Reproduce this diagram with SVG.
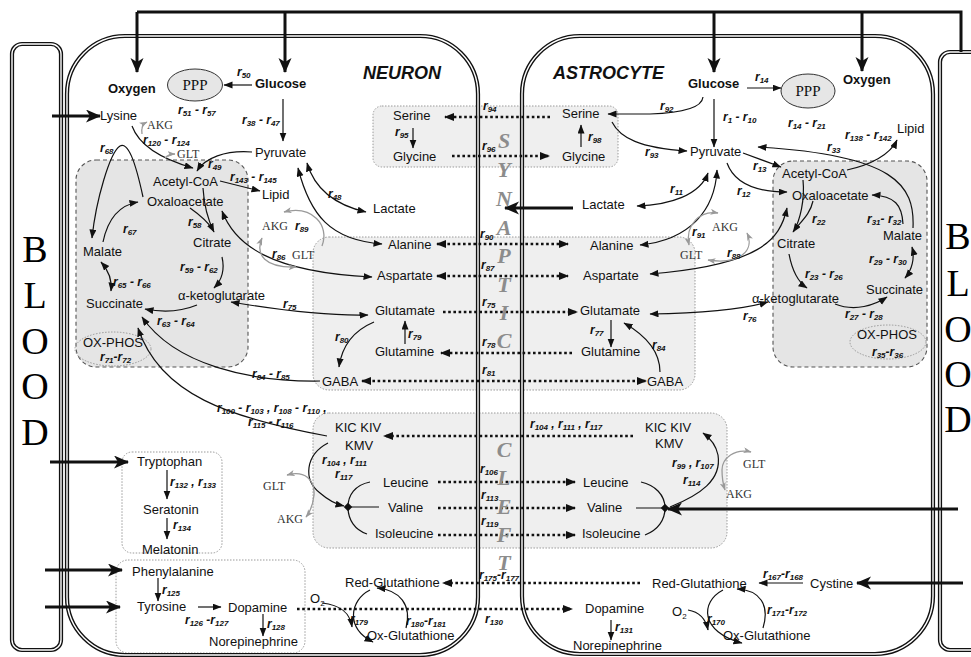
<svg xmlns="http://www.w3.org/2000/svg" width="971" height="657" viewBox="0 0 971 657">
<defs>
<style>
.m{font-family:"Liberation Sans",Arial,sans-serif;font-size:13px;fill:#111}
.b{font-family:"Liberation Sans",Arial,sans-serif;font-size:13px;font-weight:bold;fill:#111}
.r{font-family:"Liberation Sans",Arial,sans-serif;font-size:12px;font-weight:bold;font-style:italic;fill:#111}
.s{font-size:8px}
.g{font-family:"Liberation Serif","Times New Roman",serif;font-size:12px;fill:#333}
.ppp{font-family:"Liberation Serif","Times New Roman",serif;font-size:15px;fill:#111;text-anchor:middle}
.blood{font-family:"Liberation Serif","Times New Roman",serif;font-size:38px;fill:#000;text-anchor:middle}
.cleft{font-family:"Liberation Serif","Times New Roman",serif;font-size:22px;font-weight:bold;font-style:italic;fill:#8c8c8c;text-anchor:middle}
.ttl{font-family:"Liberation Sans",Arial,sans-serif;font-size:18px;font-weight:bold;font-style:italic;fill:#111}
.ln{fill:none;stroke:#111;stroke-width:1.2}
.gl{fill:none;stroke:#9a9a9a;stroke-width:1.3}
.dt{fill:none;stroke:#111;stroke-width:2.6;stroke-dasharray:2.6 2.6}
.tk{fill:none;stroke:#111;stroke-width:3}
.wallO{fill:none;stroke:#111;stroke-width:4.2}
.wallI{fill:none;stroke:#fff;stroke-width:1.4}
.tca{fill:#e5e5e5;stroke:#555;stroke-width:1.1;stroke-dasharray:4 3}
.pool{fill:#efefef;stroke:#9a9a9a;stroke-width:1;stroke-dasharray:1.5 1.5}
.pool0{fill:none;stroke:#9a9a9a;stroke-width:1;stroke-dasharray:1.5 1.5}
.oxp{fill:none;stroke:#999;stroke-width:1;stroke-dasharray:1.5 1.5}
.pe{fill:#e6e6e6;stroke:#333;stroke-width:1}
</style>
<marker id="a" markerUnits="userSpaceOnUse" markerWidth="10" markerHeight="8" refX="8.5" refY="3.5" orient="auto-start-reverse"><path d="M0,0 L9,3.5 L0,7 z" fill="#111"/></marker>
<marker id="ag" markerUnits="userSpaceOnUse" markerWidth="10" markerHeight="8" refX="7.5" refY="3" orient="auto-start-reverse"><path d="M0,0 L8,3 L0,6 L2,3 z" fill="#9a9a9a"/></marker>
<marker id="ad" markerUnits="userSpaceOnUse" markerWidth="11" markerHeight="9" refX="9" refY="4" orient="auto-start-reverse"><path d="M0,0 L10,4 L0,8 z" fill="#111"/></marker>
<marker id="at" markerUnits="userSpaceOnUse" markerWidth="16" markerHeight="14" refX="14" refY="6.5" orient="auto-start-reverse"><path d="M0,0 L15,6.5 L0,13 L4,6.5 z" fill="#111"/></marker>
</defs>
<rect width="971" height="657" fill="#fff"/>

<!-- compartment pools -->
<g id="pools">
<rect class="tca" x="76" y="160" width="172" height="207" rx="20"/>
<rect class="tca" x="773" y="161" width="154" height="206" rx="20"/>
<rect class="pool" x="373" y="106" width="245" height="61" rx="9"/>
<rect class="pool" x="313" y="237" width="382" height="153" rx="16"/>
<rect class="pool" x="313" y="413" width="414" height="135" rx="16"/>
<rect class="pool0" x="122" y="452" width="100" height="101" rx="10"/>
<rect class="pool0" x="116" y="560" width="189" height="93" rx="12"/>
<ellipse class="oxp" cx="113" cy="349" rx="38" ry="17"/>
<ellipse class="oxp" cx="888" cy="342" rx="38" ry="17"/>
</g>

<!-- blood vessels and cell membranes (double walls) -->
<g id="blood-left">
<rect class="wallO" x="12" y="44" width="49" height="606" rx="10"/>
<rect class="wallI" x="12" y="44" width="49" height="606" rx="10"/>
<text class="blood" x="35" y="262">B</text>
<text class="blood" x="35" y="308">L</text>
<text class="blood" x="35" y="354">O</text>
<text class="blood" x="35" y="399">O</text>
<text class="blood" x="35" y="445">D</text>
</g>
<g id="blood-right">
<rect class="wallO" x="940" y="52" width="60" height="598" rx="10"/>
<rect class="wallI" x="940" y="52" width="60" height="598" rx="10"/>
<text class="blood" x="958" y="249">B</text>
<text class="blood" x="958" y="296">L</text>
<text class="blood" x="958" y="342">O</text>
<text class="blood" x="958" y="387">O</text>
<text class="blood" x="958" y="432">D</text>
</g>
<g id="neuron">
<rect class="wallO" x="67" y="36" width="411" height="619" rx="58"/>
<rect class="wallI" x="67" y="36" width="411" height="619" rx="58"/>
<text class="ttl" x="363" y="79">NEURON</text>
</g>
<g id="astrocyte">
<rect class="wallO" x="522" y="36" width="411" height="618" rx="58"/>
<rect class="wallI" x="522" y="36" width="411" height="618" rx="58"/>
<text class="ttl" x="553" y="79">ASTROCYTE</text>
</g>
<ellipse class="pe" cx="195" cy="85" rx="27.5" ry="16"/>
<ellipse class="pe" cx="808" cy="91" rx="27" ry="17"/>

<!-- connectors -->
<g id="connectors">
<!-- supply from blood -->
<path class="tk" d="M137,12 H961 V52"/>
<path class="tk" d="M137,12 V72" marker-end="url(#at)"/>
<path class="tk" d="M285,12 V72" marker-end="url(#at)"/>
<path class="tk" d="M714,12 V72" marker-end="url(#at)"/>
<path class="tk" d="M862,12 V71" marker-end="url(#at)"/>
<path class="tk" d="M52,116 H100" marker-end="url(#at)"/>
<path class="tk" d="M50,462 H128" marker-end="url(#at)"/>
<path class="tk" d="M45,570 H122" marker-end="url(#at)"/>
<path class="tk" d="M45,607 H120" marker-end="url(#at)"/>
<path class="tk" d="M573,208 H505" marker-end="url(#at)"/>
<path class="tk" d="M958,509 H668" marker-end="url(#at)"/>
<path class="tk" d="M963,583 H857" marker-end="url(#at)"/>

<!-- neuron -->
<path class="ln" d="M252,85 H224" marker-end="url(#a)"/>
<path class="ln" d="M283,99 V141" marker-end="url(#a)"/>
<path class="ln" d="M252,152 C225,150 205,158 197,171" marker-end="url(#a)"/>
<path class="ln" d="M132,126 C140,148 165,160 193,168" marker-end="url(#a)"/>
<path class="ln" d="M220,181 L260,191" marker-end="url(#a)"/>
<path class="ln" d="M307,163 C315,190 335,205 366,212" marker-start="url(#a)" marker-end="url(#a)"/>
<path class="ln" d="M298,168 C310,215 330,240 382,244" marker-start="url(#a)" marker-end="url(#a)"/>
<path class="ln" d="M222,211 C235,245 270,272 372,277" marker-start="url(#a)" marker-end="url(#a)"/>
<path class="ln" d="M231,302 C290,312 330,316 368,315" marker-start="url(#a)" marker-end="url(#a)"/>
<path class="ln" d="M203,188 C204,205 208,220 214,232" marker-end="url(#a)"/>
<path class="ln" d="M190,208 C200,215 208,222 213,230"/>
<path class="ln" d="M103,242 C108,218 120,205 138,202" marker-end="url(#a)"/>
<path class="ln" d="M143,197 C135,160 128,142 120,146 C110,152 96,200 92,238" marker-end="url(#a)"/>
<path class="ln" d="M101,262 C110,272 112,282 111,291" marker-start="url(#a)" marker-end="url(#a)"/>
<path class="ln" d="M222,257 C225,270 222,280 214,288" marker-end="url(#a)"/>
<path class="ln" d="M197,305 C180,312 160,312 145,309" marker-end="url(#a)"/>
<path class="ln" d="M320,381 C250,382 175,365 142,317" marker-end="url(#a)"/>
<path class="ln" d="M327,436 C230,418 160,395 138,328" marker-end="url(#a)"/>
<path class="ln" d="M374,322 C355,330 342,345 339,367" marker-end="url(#a)"/>
<path class="ln" d="M405,344 V321" marker-end="url(#a)"/>
<path class="ln" d="M413,128 V148" marker-end="url(#a)"/>
<path class="ln" d="M328,443 C305,455 303,480 320,493 C328,500 335,504 344,506" marker-end="url(#a)"/>
<path class="ln" d="M370,482 C355,485 348,495 348,507 C348,520 355,530 367,534 M348,507 H379"/>
<rect x="345" y="504" width="6" height="6" transform="rotate(45 348 507)" fill="#111"/>
<path class="ln" d="M167,470 V499" marker-end="url(#a)"/>
<path class="ln" d="M167,518 V539" marker-end="url(#a)"/>
<path class="ln" d="M158,578 V601" marker-end="url(#a)"/>
<path class="ln" d="M198,607 H221" marker-end="url(#a)"/>
<path class="ln" d="M263,614 V636" marker-end="url(#a)"/>
<path class="ln" d="M370,590 C350,600 345,628 373,642" marker-end="url(#a)"/>
<path class="ln" d="M322,603 C340,605 350,612 352,627" marker-end="url(#a)"/>
<path class="ln" d="M406,628 C412,605 400,590 377,588" marker-end="url(#a)"/>
<path class="gl" d="M142,134 C141,128 143,124 147,122" marker-end="url(#ag)"/>
<path class="gl" d="M165,158 C168,155 171,154 175,154" marker-end="url(#ag)"/>
<path class="gl" d="M322,246 C330,225 312,205 284,212" marker-end="url(#ag)"/>
<path class="gl" d="M262,238 C255,255 265,268 296,267" marker-start="url(#ag)" marker-end="url(#ag)"/>
<path class="gl" d="M287,475 C305,470 315,480 314,495 C313,505 310,512 306,517" marker-start="url(#ag)" marker-end="url(#ag)"/>

<!-- astrocyte -->
<path class="ln" d="M747,88 H781" marker-end="url(#a)"/>
<path class="ln" d="M714,99 V147" marker-end="url(#a)"/>
<path class="ln" d="M703,97 C702,108 680,113 650,114 L608,114" marker-end="url(#a)"/>
<path class="ln" d="M612,122 C620,138 640,148 687,151" marker-end="url(#a)"/>
<path class="ln" d="M743,153 L781,167" marker-end="url(#a)"/>
<path class="ln" d="M727,163 C735,185 760,192 787,192" marker-end="url(#a)"/>
<path class="ln" d="M708,173 C700,195 670,205 637,206" marker-start="url(#a)" marker-end="url(#a)"/>
<path class="ln" d="M717,170 C715,210 690,240 640,245" marker-start="url(#a)" marker-end="url(#a)"/>
<path class="ln" d="M787,208 C780,240 760,265 650,274" marker-start="url(#a)" marker-end="url(#a)"/>
<path class="ln" d="M650,314 C700,313 740,310 768,302" marker-start="url(#a)" marker-end="url(#a)"/>
<path class="ln" d="M847,170 C870,165 890,155 897,140" marker-end="url(#a)"/>
<path class="ln" d="M913,228 C915,185 895,155 758,147" marker-end="url(#a)"/>
<path class="ln" d="M903,224 C902,205 895,196 872,195" marker-end="url(#a)"/>
<path class="ln" d="M813,201 C810,215 800,222 793,232" marker-end="url(#a)"/>
<path class="ln" d="M803,180 C805,200 800,220 794,231"/>
<path class="ln" d="M789,254 C792,270 798,282 807,288" marker-end="url(#a)"/>
<path class="ln" d="M912,247 C915,258 912,270 905,278" marker-start="url(#a)" marker-end="url(#a)"/>
<path class="ln" d="M835,304 C855,312 875,305 887,297" marker-end="url(#a)"/>
<path class="ln" d="M611,320 V347" marker-end="url(#a)"/>
<path class="ln" d="M581,147 V125" marker-end="url(#a)"/>
<path class="ln" d="M660,372 C660,350 645,335 624,323" marker-end="url(#a)"/>
<path class="ln" d="M641,482 C655,485 665,495 665,508 C665,520 658,530 645,535 M636,508 H665"/>
<rect x="662" y="505" width="6" height="6" transform="rotate(45 665 508)" fill="#111"/>
<path class="ln" d="M670,507 C700,495 722,480 718,455 C716,445 710,438 703,433" marker-end="url(#a)"/>
<path class="ln" d="M803,583 H759" marker-end="url(#a)"/>
<path class="ln" d="M723,590 C700,602 700,632 742,643" marker-end="url(#a)"/>
<path class="ln" d="M688,610 C700,612 706,620 708,630" marker-end="url(#a)"/>
<path class="ln" d="M763,628 C770,605 760,590 737,589" marker-end="url(#a)"/>
<path class="ln" d="M611,620 V640" marker-end="url(#a)"/>
<path class="gl" d="M689,245 C685,225 700,210 718,213" marker-start="url(#ag)" marker-end="url(#ag)"/>
<path class="gl" d="M747,233 C755,250 740,265 708,260" marker-start="url(#ag)" marker-end="url(#ag)"/>
<path class="gl" d="M751,452 C735,448 722,458 722,470 C722,478 723,484 725,490" marker-start="url(#ag)" marker-end="url(#ag)"/>

<!-- exchange across the cleft -->
<path class="dt" d="M550,117 H445" marker-end="url(#ad)"/>
<path class="dt" d="M452,156 H549" marker-end="url(#ad)"/>
<path class="dt" d="M437,244 H568" marker-start="url(#ad)" marker-end="url(#ad)"/>
<path class="dt" d="M437,276 H568" marker-start="url(#ad)" marker-end="url(#ad)"/>
<path class="dt" d="M443,312 H577" marker-end="url(#ad)"/>
<path class="dt" d="M572,353 H441" marker-end="url(#ad)"/>
<path class="dt" d="M362,381 H646" marker-start="url(#ad)" marker-end="url(#ad)"/>
<path class="dt" d="M633,436 H384" marker-end="url(#ad)"/>
<path class="dt" d="M438,482 H575" marker-end="url(#ad)"/>
<path class="dt" d="M438,508 H575" marker-end="url(#ad)"/>
<path class="dt" d="M438,535 H575" marker-end="url(#ad)"/>
<path class="dt" d="M640,583 H443" marker-end="url(#ad)"/>
<path class="dt" d="M297,609 H572" marker-end="url(#ad)"/>
</g>

<!-- synaptic cleft lettering -->
<g id="cleft">
<text class="cleft" x="504" y="148">S</text>
<text class="cleft" x="504" y="177">Y</text>
<text class="cleft" x="504" y="206">N</text>
<text class="cleft" x="504" y="235">A</text>
<text class="cleft" x="504" y="263">P</text>
<text class="cleft" x="504" y="292">T</text>
<text class="cleft" x="504" y="320">I</text>
<text class="cleft" x="504" y="348">C</text>
<text class="cleft" x="504" y="457">C</text>
<text class="cleft" x="504" y="485">L</text>
<text class="cleft" x="504" y="514">E</text>
<text class="cleft" x="504" y="542">F</text>
<text class="cleft" x="504" y="570">T</text>
</g>

<!-- neuron metabolites -->
<g id="n-oxygen"><text class="b" x="108" y="93">Oxygen</text></g>
<g id="n-glucose"><text class="b" x="255" y="88">Glucose</text></g>
<g id="n-ppp"><text class="ppp" x="195" y="90">PPP</text></g>
<g id="n-lysine"><text class="m" x="100" y="120">Lysine</text></g>
<g id="n-pyruvate"><text class="m" x="255" y="157">Pyruvate</text></g>
<g id="n-acetylcoa"><text class="m" x="153" y="186">Acetyl-CoA</text></g>
<g id="n-lipid"><text class="m" x="262" y="199">Lipid</text></g>
<g id="n-oxaloacetate"><text class="m" x="147" y="206">Oxaloacetate</text></g>
<g id="n-malate"><text class="m" x="83" y="256">Malate</text></g>
<g id="n-citrate"><text class="m" x="193" y="247">Citrate</text></g>
<g id="n-akg"><text class="m" x="178" y="300">α-ketoglutarate</text></g>
<g id="n-succinate"><text class="m" x="86" y="308">Succinate</text></g>
<g id="n-oxphos"><text class="m" x="83" y="347">OX-PHOS</text></g>
<g id="n-lactate"><text class="m" x="373" y="213">Lactate</text></g>
<g id="n-serine"><text class="m" x="393" y="120">Serine</text></g>
<g id="n-glycine"><text class="m" x="393" y="161">Glycine</text></g>
<g id="n-alanine"><text class="m" x="388" y="249">Alanine</text></g>
<g id="n-aspartate"><text class="m" x="377" y="280">Aspartate</text></g>
<g id="n-glutamate"><text class="m" x="375" y="315">Glutamate</text></g>
<g id="n-glutamine"><text class="m" x="375" y="356">Glutamine</text></g>
<g id="n-gaba"><text class="m" x="322" y="386">GABA</text></g>
<g id="n-kic"><text class="m" x="335" y="432">KIC KIV</text><text class="m" x="345" y="450">KMV</text></g>
<g id="n-leucine"><text class="m" x="383" y="487">Leucine</text></g>
<g id="n-valine"><text class="m" x="388" y="512">Valine</text></g>
<g id="n-isoleucine"><text class="m" x="375" y="538">Isoleucine</text></g>
<g id="n-tryptophan"><text class="m" x="137" y="466">Tryptophan</text></g>
<g id="n-seratonin"><text class="m" x="143" y="514">Seratonin</text></g>
<g id="n-melatonin"><text class="m" x="142" y="554">Melatonin</text></g>
<g id="n-phenylalanine"><text class="m" x="132" y="576">Phenylalanine</text></g>
<g id="n-tyrosine"><text class="m" x="137" y="611">Tyrosine</text></g>
<g id="n-dopamine"><text class="m" x="228" y="612">Dopamine</text></g>
<g id="n-norepinephrine"><text class="m" x="209" y="646">Norepinephrine</text></g>
<g id="n-o2"><text class="m" x="310" y="603">O<tspan class="s" dy="3" font-size="9">2</tspan></text></g>
<g id="n-redglut"><text class="m" x="345" y="587">Red-Glutathione</text></g>
<g id="n-oxglut"><text class="m" x="367" y="640">Ox-Glutathione</text></g>
<g id="n-cofactors">
<text class="g" x="147" y="129">AKG</text><text class="g" x="177" y="158">GLT</text>
<text class="g" x="262" y="230">AKG</text><text class="g" x="292" y="259">GLT</text>
<text class="g" x="263" y="490">GLT</text><text class="g" x="277" y="523">AKG</text>
</g>

<!-- astrocyte metabolites -->
<g id="a-glucose"><text class="b" x="688" y="88">Glucose</text></g>
<g id="a-ppp"><text class="ppp" x="808" y="96">PPP</text></g>
<g id="a-oxygen"><text class="b" x="843" y="84">Oxygen</text></g>
<g id="a-serine"><text class="m" x="562" y="118">Serine</text></g>
<g id="a-glycine"><text class="m" x="562" y="161">Glycine</text></g>
<g id="a-pyruvate"><text class="m" x="690" y="156">Pyruvate</text></g>
<g id="a-lipid"><text class="m" x="897" y="133">Lipid</text></g>
<g id="a-acetylcoa"><text class="m" x="782" y="178">Acetyl-CoA</text></g>
<g id="a-oxaloacetate"><text class="m" x="792" y="200">Oxaloacetate</text></g>
<g id="a-lactate"><text class="m" x="582" y="209">Lactate</text></g>
<g id="a-malate"><text class="m" x="883" y="240">Malate</text></g>
<g id="a-citrate"><text class="m" x="777" y="248">Citrate</text></g>
<g id="a-succinate"><text class="m" x="866" y="294">Succinate</text></g>
<g id="a-akg"><text class="m" x="752" y="303">α-ketoglutarate</text></g>
<g id="a-oxphos"><text class="m" x="857" y="339">OX-PHOS</text></g>
<g id="a-alanine"><text class="m" x="590" y="250">Alanine</text></g>
<g id="a-aspartate"><text class="m" x="583" y="280">Aspartate</text></g>
<g id="a-glutamate"><text class="m" x="580" y="315">Glutamate</text></g>
<g id="a-glutamine"><text class="m" x="581" y="356">Glutamine</text></g>
<g id="a-gaba"><text class="m" x="647" y="386">GABA</text></g>
<g id="a-kic"><text class="m" x="645" y="432">KIC KIV</text><text class="m" x="655" y="448">KMV</text></g>
<g id="a-leucine"><text class="m" x="583" y="487">Leucine</text></g>
<g id="a-valine"><text class="m" x="587" y="512">Valine</text></g>
<g id="a-isoleucine"><text class="m" x="582" y="538">Isoleucine</text></g>
<g id="a-redglut"><text class="m" x="652" y="588">Red-Glutathione</text></g>
<g id="a-cystine"><text class="m" x="810" y="588">Cystine</text></g>
<g id="a-o2"><text class="m" x="672" y="616">O<tspan class="s" dy="3" font-size="9">2</tspan></text></g>
<g id="a-oxglut"><text class="m" x="723" y="640">Ox-Glutathione</text></g>
<g id="a-dopamine"><text class="m" x="585" y="613">Dopamine</text></g>
<g id="a-norepinephrine"><text class="m" x="573" y="650">Norepinephrine</text></g>
<g id="a-cofactors">
<text class="g" x="712" y="231">AKG</text><text class="g" x="680" y="259">GLT</text>
<text class="g" x="743" y="468">GLT</text><text class="g" x="726" y="498">AKG</text>
</g>

<!-- reaction labels -->
<g id="reaction-labels">
<text class="r" x="237" y="76">r<tspan class="s" dy="2">50</tspan></text>
<text class="r" x="178" y="114">r<tspan class="s" dy="2">51</tspan><tspan dy="-2"> - r</tspan><tspan class="s" dy="2">57</tspan></text>
<text class="r" x="242" y="124">r<tspan class="s" dy="2">38</tspan><tspan dy="-2"> - r</tspan><tspan class="s" dy="2">47</tspan></text>
<text class="r" x="143" y="144">r<tspan class="s" dy="2">120</tspan><tspan dy="-2"> - r</tspan><tspan class="s" dy="2">124</tspan></text>
<text class="r" x="100" y="152">r<tspan class="s" dy="2">68</tspan></text>
<text class="r" x="208" y="168">r<tspan class="s" dy="2">49</tspan></text>
<text class="r" x="230" y="181">r<tspan class="s" dy="2">143</tspan><tspan dy="-2"> - r</tspan><tspan class="s" dy="2">145</tspan></text>
<text class="r" x="188" y="226">r<tspan class="s" dy="2">58</tspan></text>
<text class="r" x="123" y="233">r<tspan class="s" dy="2">67</tspan></text>
<text class="r" x="180" y="271">r<tspan class="s" dy="2">59</tspan><tspan dy="-2"> - r</tspan><tspan class="s" dy="2">62</tspan></text>
<text class="r" x="113" y="286">r<tspan class="s" dy="2">65</tspan><tspan dy="-2"> - r</tspan><tspan class="s" dy="2">66</tspan></text>
<text class="r" x="157" y="325">r<tspan class="s" dy="2">63</tspan><tspan dy="-2"> - r</tspan><tspan class="s" dy="2">64</tspan></text>
<text class="r" x="100" y="361">r<tspan class="s" dy="2">71</tspan><tspan dy="-2">-r</tspan><tspan class="s" dy="2">72</tspan></text>
<text class="r" x="283" y="308">r<tspan class="s" dy="2">75</tspan></text>
<text class="r" x="252" y="378">r<tspan class="s" dy="2">84</tspan><tspan dy="-2"> - r</tspan><tspan class="s" dy="2">85</tspan></text>
<text class="r" x="217" y="412">r<tspan class="s" dy="2">100</tspan><tspan dy="-2"> - r</tspan><tspan class="s" dy="2">103</tspan><tspan dy="-2"> , r</tspan><tspan class="s" dy="2">108</tspan><tspan dy="-2"> - r</tspan><tspan class="s" dy="2">110</tspan><tspan dy="-2"> ,</tspan></text>
<text class="r" x="248" y="426">r<tspan class="s" dy="2">115</tspan><tspan dy="-2"> - r</tspan><tspan class="s" dy="2">116</tspan></text>
<text class="r" x="295" y="230">r<tspan class="s" dy="2">89</tspan></text>
<text class="r" x="272" y="258">r<tspan class="s" dy="2">86</tspan></text>
<text class="r" x="328" y="198">r<tspan class="s" dy="2">48</tspan></text>
<text class="r" x="395" y="136">r<tspan class="s" dy="2">95</tspan></text>
<text class="r" x="335" y="341">r<tspan class="s" dy="2">80</tspan></text>
<text class="r" x="408" y="338">r<tspan class="s" dy="2">79</tspan></text>
<text class="r" x="322" y="464">r<tspan class="s" dy="2">104</tspan><tspan dy="-2"> , r</tspan><tspan class="s" dy="2">111</tspan></text>
<text class="r" x="335" y="478">r<tspan class="s" dy="2">117</tspan></text>
<text class="r" x="170" y="486">r<tspan class="s" dy="2">132</tspan><tspan dy="-2"> , r</tspan><tspan class="s" dy="2">133</tspan></text>
<text class="r" x="173" y="529">r<tspan class="s" dy="2">134</tspan></text>
<text class="r" x="162" y="594">r<tspan class="s" dy="2">125</tspan></text>
<text class="r" x="185" y="624">r<tspan class="s" dy="2">126</tspan><tspan dy="-2"> -r</tspan><tspan class="s" dy="2">127</tspan></text>
<text class="r" x="267" y="628">r<tspan class="s" dy="2">128</tspan></text>
<text class="r" x="350" y="623">r<tspan class="s" dy="2">179</tspan></text>
<text class="r" x="406" y="625">r<tspan class="s" dy="2">180</tspan><tspan dy="-2">-r</tspan><tspan class="s" dy="2">181</tspan></text>

<text class="r" x="483" y="110">r<tspan class="s" dy="2">94</tspan></text>
<text class="r" x="482" y="150">r<tspan class="s" dy="2">96</tspan></text>
<text class="r" x="480" y="238">r<tspan class="s" dy="2">90</tspan></text>
<text class="r" x="481" y="269">r<tspan class="s" dy="2">87</tspan></text>
<text class="r" x="482" y="306">r<tspan class="s" dy="2">75</tspan></text>
<text class="r" x="482" y="346">r<tspan class="s" dy="2">78</tspan></text>
<text class="r" x="482" y="374">r<tspan class="s" dy="2">81</tspan></text>
<text class="r" x="530" y="428">r<tspan class="s" dy="2">104</tspan><tspan dy="-2"> , r</tspan><tspan class="s" dy="2">111</tspan><tspan dy="-2"> , r</tspan><tspan class="s" dy="2">117</tspan></text>
<text class="r" x="480" y="473">r<tspan class="s" dy="2">106</tspan></text>
<text class="r" x="481" y="499">r<tspan class="s" dy="2">113</tspan></text>
<text class="r" x="481" y="525">r<tspan class="s" dy="2">119</tspan></text>
<text class="r" x="479" y="579">r<tspan class="s" dy="2">175</tspan><tspan dy="-2">-r</tspan><tspan class="s" dy="2">177</tspan></text>
<text class="r" x="485" y="623">r<tspan class="s" dy="2">130</tspan></text>

<text class="r" x="755" y="81">r<tspan class="s" dy="2">14</tspan></text>
<text class="r" x="788" y="127">r<tspan class="s" dy="2">14</tspan><tspan dy="-2"> - r</tspan><tspan class="s" dy="2">21</tspan></text>
<text class="r" x="723" y="121">r<tspan class="s" dy="2">1</tspan><tspan dy="-2"> - r</tspan><tspan class="s" dy="2">10</tspan></text>
<text class="r" x="660" y="110">r<tspan class="s" dy="2">92</tspan></text>
<text class="r" x="588" y="141">r<tspan class="s" dy="2">98</tspan></text>
<text class="r" x="645" y="156">r<tspan class="s" dy="2">93</tspan></text>
<text class="r" x="845" y="139">r<tspan class="s" dy="2">138</tspan><tspan dy="-2"> - r</tspan><tspan class="s" dy="2">142</tspan></text>
<text class="r" x="827" y="151">r<tspan class="s" dy="2">33</tspan></text>
<text class="r" x="753" y="170">r<tspan class="s" dy="2">13</tspan></text>
<text class="r" x="737" y="195">r<tspan class="s" dy="2">12</tspan></text>
<text class="r" x="670" y="193">r<tspan class="s" dy="2">11</tspan></text>
<text class="r" x="812" y="223">r<tspan class="s" dy="2">22</tspan></text>
<text class="r" x="867" y="223">r<tspan class="s" dy="2">31</tspan><tspan dy="-2">- r</tspan><tspan class="s" dy="2">32</tspan></text>
<text class="r" x="692" y="236">r<tspan class="s" dy="2">91</tspan></text>
<text class="r" x="727" y="257">r<tspan class="s" dy="2">88</tspan></text>
<text class="r" x="869" y="263">r<tspan class="s" dy="2">29</tspan><tspan dy="-2"> - r</tspan><tspan class="s" dy="2">30</tspan></text>
<text class="r" x="805" y="278">r<tspan class="s" dy="2">23</tspan><tspan dy="-2"> - r</tspan><tspan class="s" dy="2">26</tspan></text>
<text class="r" x="845" y="318">r<tspan class="s" dy="2">27</tspan><tspan dy="-2"> - r</tspan><tspan class="s" dy="2">28</tspan></text>
<text class="r" x="743" y="320">r<tspan class="s" dy="2">76</tspan></text>
<text class="r" x="590" y="334">r<tspan class="s" dy="2">77</tspan></text>
<text class="r" x="872" y="356">r<tspan class="s" dy="2">35</tspan><tspan dy="-2">-r</tspan><tspan class="s" dy="2">36</tspan></text>
<text class="r" x="652" y="349">r<tspan class="s" dy="2">84</tspan></text>
<text class="r" x="672" y="467">r<tspan class="s" dy="2">99</tspan><tspan dy="-2"> , r</tspan><tspan class="s" dy="2">107</tspan></text>
<text class="r" x="683" y="484">r<tspan class="s" dy="2">114</tspan></text>
<text class="r" x="763" y="578">r<tspan class="s" dy="2">167</tspan><tspan dy="-2">-r</tspan><tspan class="s" dy="2">168</tspan></text>
<text class="r" x="767" y="614">r<tspan class="s" dy="2">171</tspan><tspan dy="-2">-r</tspan><tspan class="s" dy="2">172</tspan></text>
<text class="r" x="707" y="623">r<tspan class="s" dy="2">170</tspan></text>
<text class="r" x="615" y="631">r<tspan class="s" dy="2">131</tspan></text>
</g>
</svg>
